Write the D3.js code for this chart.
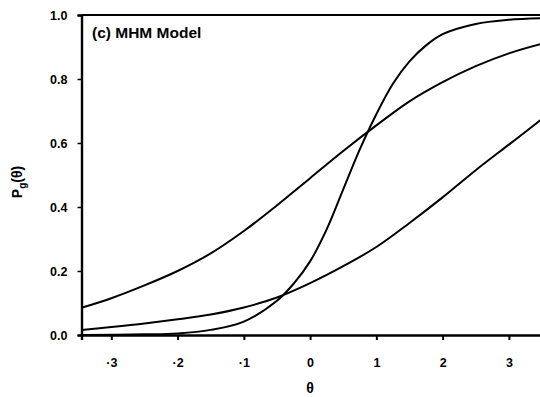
<!DOCTYPE html>
<html lang="en">
<head>
  <meta charset="UTF-8">
  <title>(c) MHM Model</title>
  <script src="https://d3js.org/d3.v7.min.js"></script>
  <style>
    body { margin: 0; background: #fff; }
    text { font-family: "Liberation Sans", Arial, sans-serif; font-weight: bold; fill: #000; }
  </style>
</head>
<body>
  <div id="chart"></div>
  <script>
    // theta grid the curves were read at
    const thetaA = [-3.45, -3, -2.5, -2, -1.5, -1, -0.5, 0, 0.5, 1, 1.5, 2, 2.5, 3, 3.5];
    const probA  = [0.085, 0.115, 0.155, 0.20, 0.255, 0.325, 0.405, 0.49, 0.575, 0.655, 0.73, 0.79, 0.84, 0.88, 0.91];

    // steep curve
    const thetaB = [-3.45, -2.5, -2, -1.5, -1, -0.5, -0.25, 0, 0.25, 0.5, 0.75, 1, 1.25, 1.5, 1.75, 2, 2.5, 3, 3.5];
    const probB  = [0.0, 0.002, 0.005, 0.016, 0.042, 0.107, 0.16, 0.23, 0.33, 0.455, 0.58, 0.69, 0.785, 0.855, 0.905, 0.94, 0.972, 0.985, 0.99];

    // lower curve
    const thetaC = [-3.45, -3, -2.5, -2, -1.5, -1, -0.5, 0, 0.5, 1, 1.5, 2, 2.5, 3, 3.5];
    const probC  = [0.016, 0.025, 0.036, 0.049, 0.064, 0.086, 0.117, 0.162, 0.215, 0.275, 0.35, 0.43, 0.515, 0.595, 0.675];

    const xTicks = [-3, -2, -1, 0, 1, 2, 3];
    const xTickLabels = ["·3", "·2", "·1", "0", "1", "2", "3"];
    const yTicks = [0, 0.2, 0.4, 0.6, 0.8, 1.0];
    const yTickLabels = ["0.0", "0.2", "0.4", "0.6", "0.8", "1.0"];

    const width = 540, height = 397;
    const svg = d3.select("#chart").append("svg")
      .attr("width", width)
      .attr("height", height);

    const x = d3.scaleLinear().domain([-3.45, 3.5]).range([81.5, 542]);
    const y = d3.scaleLinear().domain([0, 1]).range([335, 15]);

    svg.append("clipPath").attr("id", "plot")
      .append("rect").attr("x", x(-3.45)).attr("y", y(1)).attr("width", 470).attr("height", y(0) - y(1));

    // curves
    const line = d3.line().x(d => x(d[0])).y(d => y(d[1])).curve(d3.curveCatmullRom.alpha(0.5));
    [[thetaA, probA], [thetaB, probB], [thetaC, probC]].forEach(([t, p]) => {
      svg.append("path")
        .datum(t.map((v, i) => [v, p[i]]))
        .attr("d", line)
        .attr("clip-path", "url(#plot)")
        .attr("fill", "none")
        .attr("stroke", "#000")
        .attr("stroke-width", 2);
    });

    // frame: top line, left and bottom axes
    svg.append("line")
      .attr("x1", x(-3.45)).attr("x2", width)
      .attr("y1", y(1)).attr("y2", y(1))
      .attr("stroke", "#000").attr("stroke-width", 1.8);

    const xAxis = d3.axisBottom(x).tickValues(xTicks)
      .tickFormat((d, i) => xTickLabels[i]).tickSize(5).tickPadding(18);
    const gx = svg.append("g").attr("transform", `translate(0,${y(0)})`).call(xAxis);
    gx.select(".domain").attr("stroke-width", 2.4);
    gx.selectAll(".tick line").attr("stroke-width", 2);
    gx.selectAll("text").style("font-size", "12.5px").attr("fill", "#000");

    const yAxis = d3.axisLeft(y).tickValues(yTicks)
      .tickFormat((d, i) => yTickLabels[i]).tickSize(4).tickPadding(10);
    const gy = svg.append("g").attr("transform", `translate(${x(-3.45)},0)`).call(yAxis);
    gy.select(".domain").attr("stroke-width", 2.4);
    gy.selectAll(".tick line").attr("stroke-width", 1.5);
    gy.selectAll("text").style("font-size", "12.5px").attr("fill", "#000");

    // panel label
    svg.append("text")
      .attr("x", 92).attr("y", 38)
      .style("font-size", "15.5px")
      .text("(c) MHM Model");

    // axis titles
    svg.append("text")
      .attr("x", x(0)).attr("y", 393)
      .attr("text-anchor", "middle")
      .style("font-size", "14px")
      .text("θ");

    const yl = svg.append("text")
      .attr("transform", "translate(22,182) rotate(-90)")
      .attr("text-anchor", "middle")
      .style("font-size", "14px");
    yl.append("tspan").text("P");
    yl.append("tspan").attr("dy", 4).style("font-size", "10px").text("g");
    yl.append("tspan").attr("dy", -4).text("(θ)");
  </script>
</body>
</html>
